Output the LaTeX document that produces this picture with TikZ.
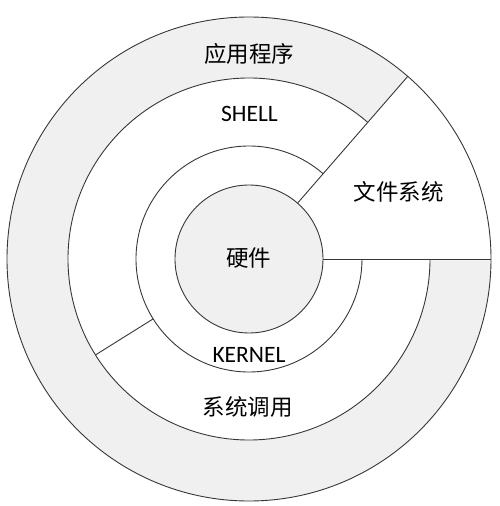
\documentclass[tikz,border=0pt]{standalone}
\usepackage{fontspec}
\setmainfont{Carlito}
\newfontfamily\cjk{Noto Sans CJK SC}
\definecolor{nenxam}{RGB}{240,240,240}
\definecolor{vien}{RGB}{55,55,55}
\begin{document}
\begin{tikzpicture}[x=1pt,y=1pt,line width=0.9pt,
    chu/.style={font=\cjk\fontsize{22.5}{26}\selectfont,inner sep=0pt},
    latin/.style={font=\fontsize{23.5}{27}\selectfont,anchor=base,inner sep=0pt}]
            \def\rmot{74}
            \def\rhai{113}
            \def\rba{181}
            \def\rbon{242}
            \useasboundingbox (-249,-247) rectangle (251,259);
            \begin{scope}
                \fill[nenxam] (0,0) circle (\rbon);
                \fill[white] (0,0) circle (\rba);
                \fill[white] (0,0) -- (0:\rbon) arc (0:49:\rbon) -- cycle;
                \fill[nenxam] (0,0) circle (\rmot);
            \end{scope}
            %\draw[gray!50] (-249,-247) grid[step=50] (251,259);
            \begin{scope}[draw=vien]
                \draw (0,0) circle (\rbon);
                \draw (0,0) circle (\rmot);
                \draw (49:\rba) arc (49:360:\rba);
                \draw (49:\rhai) arc (49:360:\rhai);
                \draw (0:\rmot) -- (0:\rbon);
                \draw (49:\rmot) -- (49:\rbon);
                \draw (212:\rhai) -- (212:\rba);
            \end{scope}
            \node[chu] (ungdung) at (0.5,205.5) {应用程序};
            \node[latin] (shell) at (0.5,137) {SHELL};
            \node[chu] (tep) at (149.5,67.5) {文件系统};
            \node[chu] (phancung) at (0,1) {硬件};
            \node[latin] (kernel) at (0,-103) {KERNEL};
            \node[chu] (goihethong) at (-1,-147.5) {系统调用};
        \end{tikzpicture}
\end{document}
